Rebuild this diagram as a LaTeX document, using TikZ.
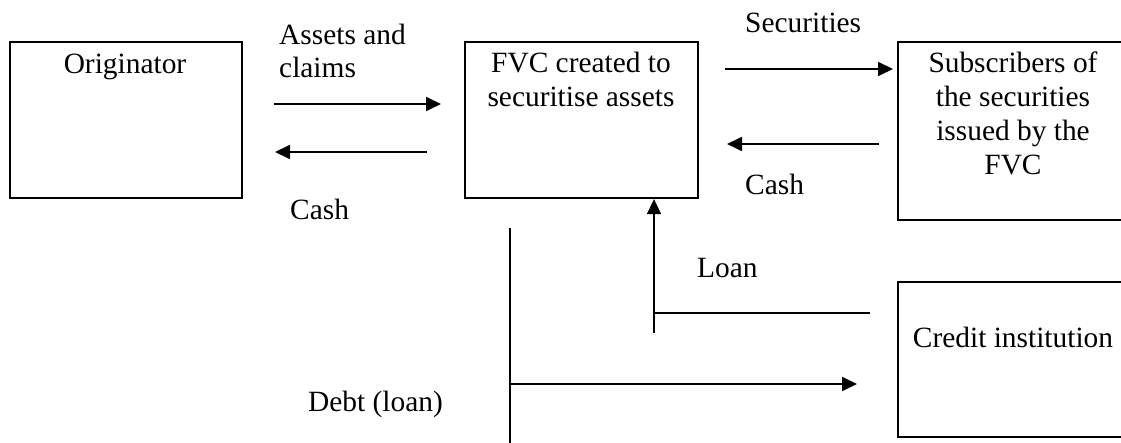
\documentclass[tikz,border=0pt]{standalone}
\usepackage{fontspec}
\setmainfont{Liberation Serif}
\usetikzlibrary{arrows.meta}
\begin{document}
\begin{tikzpicture}[x=1pt,y=-1pt,
  box/.style={draw=black,line width=2.3pt,rectangle,inner sep=0pt},
  txt/.style={font=\fontsize{29.4}{34}\selectfont,inner sep=0pt,align=center},
  ltxt/.style={font=\fontsize{29.4}{33}\selectfont,inner sep=0pt,align=left},
  arr/.style={line width=1.8pt,-{Triangle[length=15pt,width=14pt]}},
  ln/.style={line width=1.8pt}]
\useasboundingbox (0,0) rectangle (1121,443);
% boxes
\node[box,minimum width=232pt,minimum height=156pt] (orig) at (126,120) {};
\node[box,minimum width=233pt,minimum height=156pt] (fvc) at (581.5,120) {};
\node[box,minimum width=230pt,minimum height=178pt] (subs) at (1013,131) {};
\node[box,minimum width=230pt,minimum height=155pt] (cred) at (1013,359.5) {};
% box texts (base = baseline of last line)
\node[txt,anchor=base] (origt) at (125,74) {Originator};
\node[txt,anchor=base] (fvct) at (581,107) {FVC created to\\securitise assets};
\node[txt,anchor=base] (subst) at (1013,175) {Subscribers of\\the securities\\issued by the\\FVC};
\node[txt,anchor=base] (credt) at (1013,348) {Credit institution};
% labels
\node[ltxt,anchor=base west] (assets) at (279,78) {Assets and\\claims};
\node[ltxt,anchor=base west] (cashl) at (290,220) {Cash};
\node[ltxt,anchor=base west] (secl) at (745,33) {Securities};
\node[ltxt,anchor=base west] (cashr) at (745,195) {Cash};
\node[ltxt,anchor=base west] (loanl) at (697,278) {Loan};
\node[ltxt,anchor=base west] (debtl) at (308,411) {Debt (loan)};
% connector end points
\coordinate (a1s) at (274,104);
\coordinate (a1e) at (441,104);
\coordinate (c1s) at (427,152);
\coordinate (c1e) at (275,152);
\coordinate (s1s) at (725,69);
\coordinate (s1e) at (893,69);
\coordinate (c2s) at (879,144);
\coordinate (c2e) at (727,144);
\coordinate (loanbot) at (654,333);
\coordinate (loanjoin) at (654,313);
\coordinate (loanr) at (870,313);
\coordinate (debttop) at (510,228);
\coordinate (debtbot) at (510,445);
\coordinate (debtjoin) at (510,384);
\coordinate (debte) at (857,384);
% connectors
\draw[arr] (a1s) -- (a1e);
\draw[arr] (c1s) -- (c1e);
\draw[arr] (s1s) -- (s1e);
\draw[arr] (c2s) -- (c2e);
\draw[ln] (loanr) -- (loanjoin);
\draw[arr] (loanbot) -- (loanbot |- fvc.south);
\draw[ln] (debttop) -- (debtbot);
\draw[arr] (debtjoin) -- (debte);
\end{tikzpicture}
\end{document}
